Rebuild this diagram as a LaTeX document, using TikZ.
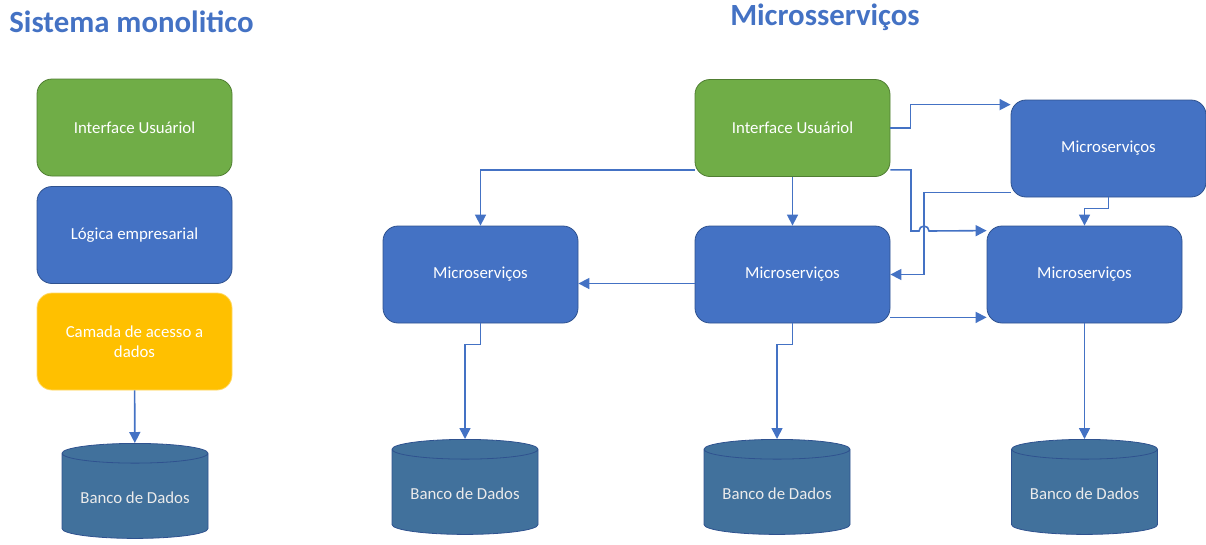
\documentclass[tikz,border=0pt]{standalone}
\usepackage{fontspec}
\setmainfont{Carlito}
\usetikzlibrary{arrows.meta,shapes.geometric}

\definecolor{uigreen}{HTML}{70AD47}
\definecolor{uiedge}{HTML}{507E32}
\definecolor{msblue}{HTML}{4472C4}
\definecolor{msedge}{HTML}{2F528F}
\definecolor{dalyellow}{HTML}{FFC000}
\definecolor{daledge}{HTML}{FFD966}
\definecolor{dbsteel}{HTML}{41719C}
\definecolor{linkblue}{HTML}{4472C4}

\begin{document}
\begin{tikzpicture}[x=1pt,y=-1pt,
  box/.style={rectangle, rounded corners=15pt, minimum width=195pt, minimum height=97pt,
    line width=0.8pt, draw=msedge, fill=msblue, text=white, align=center,
    font=\fontsize{16.8}{20}\selectfont},
  uibox/.style={box, draw=uiedge, fill=uigreen},
  dalbox/.style={box, draw=daledge, fill=dalyellow},
  dbcyl/.style={cylinder, shape border rotate=90, aspect=0.17, minimum width=146pt,
    minimum height=95pt, line width=0.8pt, draw=msedge, fill=dbsteel, text=white!92!black,
    font=\fontsize{16.8}{20}\selectfont},
  title/.style={text=msblue, font=\fontsize{30.8}{36}\selectfont\bfseries},
  link/.style={draw=linkblue, line width=1.6pt, -{Triangle[length=11pt,width=11pt]}}]

\useasboundingbox (0,0) rectangle (1206,544);

% titles
\node[title] (tmono) at (131.5,22) {Sistema monolitico};
\node[title] (tmicro) at (825,17) {Microsserviços};

% monolithic stack
\node[uibox] (ui1) at (134.5,127.5) {Interface Usuáriol};
\node[box] (biz) at (134.5,235) {Lógica empresarial};
\node[dalbox] (dal) at (134.5,341.5) {Camada de acesso a\\dados};
\node[dbcyl] (db0) at (135,497.5) {Banco de Dados};

% microservices
\node[uibox] (ui2) at (792.5,128) {Interface Usuáriol};
\node[box] (ms0) at (1108.5,148.5) {Microserviços};
\node[box] (ms1) at (480.5,274.5) {Microserviços};
\node[box] (ms2) at (792.5,274.5) {Microserviços};
\node[box] (ms3) at (1084.5,274.5) {Microserviços};
\node[dbcyl] (db1) at (465,493.5) {Banco de Dados};
\node[dbcyl] (db2) at (777,493.5) {Banco de Dados};
\node[dbcyl] (db3) at (1084.5,493.5) {Banco de Dados};

\coordinate (hop) at (924,231);

% connectors
\draw[link] (dal) -- (db0);
\draw[link] ([yshift=7pt]ui2.south west) -| (ms1.north);
\draw[link] (ui2) -- (ms2);
\draw[link] (ui2.east) -- ++(20,0) |- ([yshift=-5pt]ms0.north west);
\draw[link] ([yshift=7pt]ui2.south east) -| ([xshift=-13pt]hop) -- ([xshift=-5pt]hop)
  arc[start angle=180, end angle=0, radius=5pt] -- ([yshift=-5pt]ms3.north west);
\draw[link] ([yshift=5pt]ms0.south west) -| (hop) |- (ms2.east);
\draw[link] (ms0.south) -- ++(0,11) -| (ms3.north);
\draw[link] ([yshift=-9pt]ms2.west) -- ([yshift=-9pt]ms1.east);
\draw[link] ([yshift=6pt]ms2.south east) -- ([yshift=6pt]ms3.south west);
\draw[link] (ms1.south) -- ++(0,21) -| (db1.north);
\draw[link] (ms2.south) -- ++(0,21) -| (db2.north);
\draw[link] (ms3) -- (db3);
\end{tikzpicture}
\end{document}
